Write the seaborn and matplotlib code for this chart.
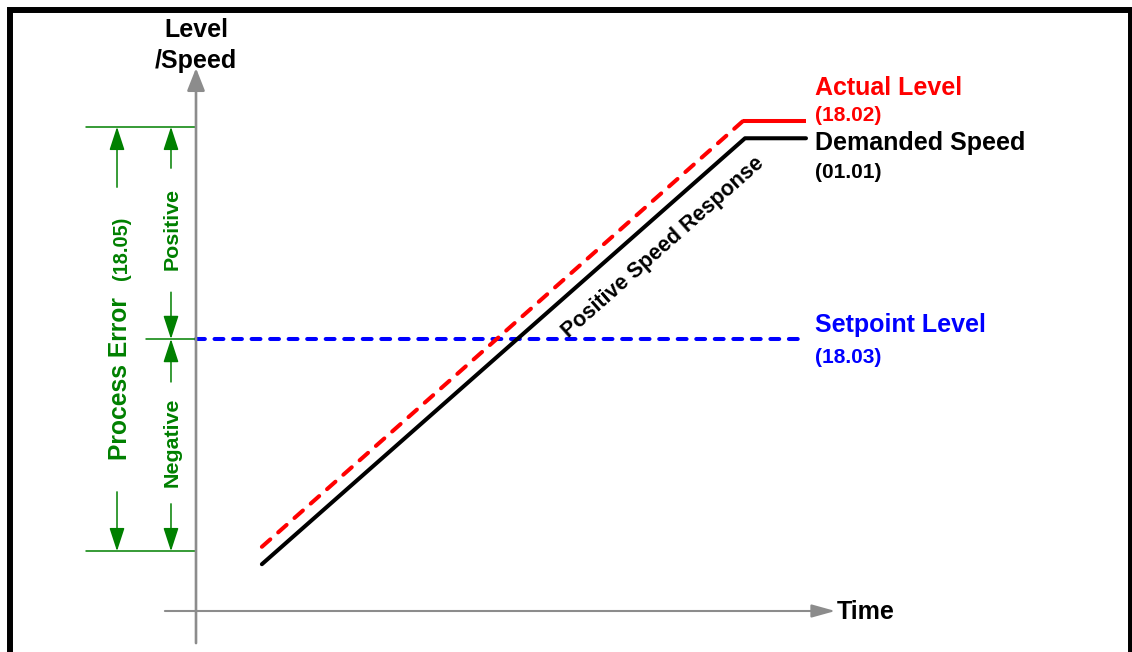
import numpy as np
import pandas as pd
import seaborn as sns
import matplotlib.pyplot as plt
from matplotlib.patches import Rectangle

# values (time 0..10, level 0..10)
demand_time = [1.08, 9.0, 10.0]
demanded_speed = [0.86, 8.69, 8.69]
actual_time = [1.08, 8.97, 10.0]
actual_level = [1.18, 9.01, 9.01]
setpoint_time = [0.0, 10.0]
setpoint_level = [5.0, 5.0]
error_top = 8.9        # top of the process error band
error_bottom = 1.10    # bottom of the process error band

sns.set_style("white")
plt.rcParams['font.family'] = ['Liberation Sans', 'DejaVu Sans']
plt.rcParams['font.weight'] = 'bold'
plt.rcParams['text.color'] = 'black'

fig = plt.figure(figsize=(11.32, 6.52), dpi=100)
ax = fig.add_axes([0, 0, 1, 1])
# 61 px per time unit, 54.4 px per level unit, origin at (196, 611) px
ax.set_xlim(-196 / 61, (1132 - 196) / 61)
ax.set_ylim((611 - 652) / 54.4, 611 / 54.4)
ax.axis('off')

# frame round the drawing
fig.patches.append(Rectangle((10 / 1132, -0.1), (1131 - 10) / 1132, 1.1 - 10 / 652,
                             transform=fig.transFigure, fill=False,
                             edgecolor='black', linewidth=4.3, zorder=0))

gray = '#8c8c8c'
green = '#008000'

def arrow(x0, y0, x1, y1, color, lw, hl, hw):
    ax.annotate('', xy=(x1, y1), xytext=(x0, y0),
                arrowprops=dict(arrowstyle='-|>,head_length=%s,head_width=%s' % (hl, hw),
                                color=color, lw=lw, shrinkA=0, shrinkB=0,
                                mutation_scale=10))

# axes
arrow(0, -0.59, 0, 9.98, gray, 1.9, 1.37, 0.54)
arrow(-0.51, 0, 10.48, 0, gray, 1.5, 1.44, 0.40)

# series
sns.lineplot(x=setpoint_time, y=setpoint_level, ax=ax, color='#0000ff', lw=2.9,
             linestyle=(0, (2.2, 2.4)), dash_capstyle='round', legend=False)
sns.lineplot(x=demand_time, y=demanded_speed, ax=ax, color='black', lw=2.9,
             solid_capstyle='round', solid_joinstyle='round', legend=False)
sns.lineplot(x=actual_time[:2], y=actual_level[:2], ax=ax, color='#ff0000', lw=2.9,
             linestyle=(0, (2.8, 2.6)), dash_capstyle='round', legend=False)
sns.lineplot(x=actual_time[1:], y=actual_level[1:], ax=ax, color='#ff0000', lw=2.9,
             solid_capstyle='butt', legend=False)

# process error band
ax.plot([-1.80, 0], [error_top, error_top], color=green, lw=1.1)
ax.plot([-0.82, 0], [setpoint_level[0], setpoint_level[0]], color=green, lw=1.1)
ax.plot([-1.80, 0], [error_bottom, error_bottom], color=green, lw=1.1)
arrow(-1.295, 7.79, -1.295, error_top, green, 1.1, 1.44, 0.47)
arrow(-1.295, 2.19, -1.295, error_bottom, green, 1.1, 1.44, 0.47)
arrow(-0.41, 8.14, -0.41, error_top, green, 1.1, 1.44, 0.47)
arrow(-0.41, 5.86, -0.41, setpoint_level[0], green, 1.1, 1.44, 0.47)
arrow(-0.41, 4.21, -0.41, setpoint_level[0], green, 1.1, 1.44, 0.47)
arrow(-0.41, 1.97, -0.41, error_bottom, green, 1.1, 1.44, 0.47)

vt = dict(rotation=90, rotation_mode='anchor', ha='center', va='baseline',
          color=green, fontweight='bold')
ax.text(-1.13, 4.27, 'Process Error', fontsize=17.7, **vt)
ax.text(-1.13, 6.66, '(18.05)', fontsize=14.3, **vt)
ax.text(-0.295, 7.02, 'Positive', fontsize=15.4, **vt)
ax.text(-0.295, 3.11, 'Negative', fontsize=15.4, **vt)

# labels
lab = dict(ha='left', va='baseline', fontweight='bold')
ax.text(0, 10.55, 'Level', fontsize=18, ha='center', va='baseline', fontweight='bold', color='black')
ax.text(0, 9.98, '/Speed', fontsize=18, ha='center', va='baseline', fontweight='bold', color='black')
ax.text(10.51, -0.15, 'Time', fontsize=18, color='black', **lab)
ax.text(10.15, 9.485, 'Actual Level', fontsize=18, color='#ff0000', **lab)
ax.text(10.15, 9.0, '(18.02)', fontsize=15, color='#ff0000', **lab)
ax.text(10.15, 8.47, 'Demanded Speed', fontsize=18, color='black', **lab)
ax.text(10.15, 7.96, '(01.01)', fontsize=15, color='black', **lab)
ax.text(10.15, 5.13, 'Setpoint Level', fontsize=18, color='#0000ff', **lab)
ax.text(10.15, 4.56, '(18.03)', fontsize=15, color='#0000ff', **lab)
ax.text(7.66, 6.69, 'Positive Speed Response', fontsize=15.5, rotation=41.5,
        rotation_mode='anchor', ha='center', va='center', fontweight='bold', color='black')

fig.savefig('out.png', dpi=100, facecolor='white')
